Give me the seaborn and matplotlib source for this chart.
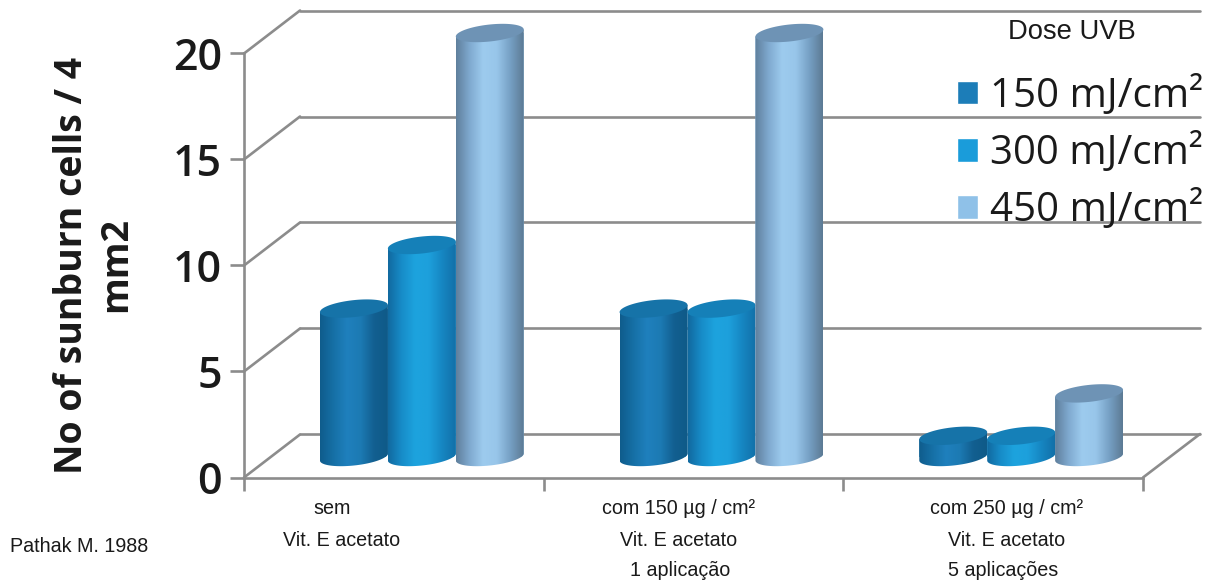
import numpy as np
import pandas as pd
import seaborn as sns
import matplotlib
matplotlib.use("Agg")
import matplotlib.pyplot as plt
from matplotlib.colors import LinearSegmentedColormap
from matplotlib.lines import Line2D
from matplotlib.patches import Polygon
from matplotlib.path import Path

# ---- data ----
categories = ["sem", "com 150", "com 250"]
doses = ["150 mJ/cm²", "300 mJ/cm²", "450 mJ/cm²"]
values_150 = [7, 7, 1]
values_300 = [10, 7, 1]
values_450 = [20, 20, 3]
y_ticks = [0, 5, 10, 15, 20]
y_title = "No of sunburn cells / 4\nmm2"
legend_title = "Dose UVB"
source = "Pathak M. 1988"
x_lines = [
    [("sem", 332, 508), ("Vit. E acetato", 342, 540)],
    [("com 150 µg / cm²", 678, 508), ("Vit. E acetato", 679, 540), ("1 aplicação", 680, 571)],
    [("com 250 µg / cm²", 1007, 508), ("Vit. E acetato", 1007, 540), ("5 aplicações", 1003, 571)],
]

# ---- style ----
W, H = 1214, 583
GREY = "#8c8c8c"
flat = ["#1C7DB8", "#1A9CDA", "#8FC1E8"]
sides = [
    ["#0F5C8C", "#1670A6", "#1F80BD", "#1C7AB3", "#125F90", "#0F5A88"],
    ["#11699F", "#178CC8", "#1DA3DE", "#1DA0DC", "#1686C2", "#1270A8"],
    ["#5F7F9C", "#7FA9CF", "#9DCBEE", "#98C6EA", "#76A0C4", "#5C7A94"],
]
tops = ["#1673A8", "#1580B8", "#6E93B5"]

sns.set_theme(style="white")
plt.rcParams["font.family"] = ["Open Sans", "DejaVu Sans"]
fig = plt.figure(figsize=(W / 100, H / 100), dpi=100)
fig.patch.set_facecolor("white")


def rect(x0, x1, y_bottom, y_top):
    return [x0 / W, 1 - y_bottom / H, (x1 - x0) / W, (y_bottom - y_top) / H]


def fx(x):
    return x / W


def fy(y):
    return 1 - y / H


# back wall with its gridlines
ax_back = fig.add_axes(rect(300, 1200, 434, 11))
ax_back.set_xlim(-0.5, 2.5)
ax_back.set_ylim(0, 20)
ax_back.set_yticks(y_ticks)
ax_back.set_xticks([])
ax_back.tick_params(left=False, labelleft=False)
ax_back.grid(axis="y", color=GREY, lw=1.9)
sns.despine(ax=ax_back, left=True, bottom=True)
for line in ax_back.get_ygridlines():
    line.set_clip_on(False)
ax_back.patch.set_alpha(0)

# front plane with axes
ax_front = fig.add_axes(rect(244, 1143, 477.5, 53))
ax_front.set_xlim(-0.5, 2.5)
ax_front.set_ylim(0, 20)
ax_front.patch.set_alpha(0)
ax_front.set_yticks(y_ticks)
ax_front.set_xticks([-0.5, 0.5, 1.5, 2.5])
ax_front.set_xticklabels([])
ax_front.set_yticklabels([str(t) for t in y_ticks], fontsize=31, fontweight="semibold", color="#1a1a1a")
sns.despine(ax=ax_front)
for s in ("left", "bottom"):
    ax_front.spines[s].set_color(GREY)
    ax_front.spines[s].set_linewidth(1.9)
ax_front.spines["left"].set_bounds(0, 20)
ax_front.tick_params(axis="y", length=10, width=1.9, color=GREY, pad=6, left=True)
ax_front.tick_params(axis="x", length=9, width=1.9, color=GREY, bottom=True)

# depth diagonals
for t in y_ticks:
    y0 = 477.5 - t * 21.2
    fig.add_artist(Line2D([fx(244), fx(300)], [fy(y0), fy(y0 - 43)], color=GREY, lw=1.9))
fig.add_artist(Line2D([fx(1143), fx(1200)], [fy(477.5), fy(434)], color=GREY, lw=1.9))

# bars
PX = 21.2
y_low, y_high = -1.0, 22.0
ax_bars = fig.add_axes(rect(272, 1171, 457 - y_low * PX, 457 - y_high * PX))
ax_bars.patch.set_alpha(0)
df = pd.DataFrame({
    "group": categories * 3,
    "dose": [doses[0]] * 3 + [doses[1]] * 3 + [doses[2]] * 3,
    "value": values_150 + values_300 + values_450,
})
sns.barplot(data=df, x="group", y="value", hue="dose", palette=flat, width=0.68, gap=0,
            saturation=1, ax=ax_bars, errorbar=None)

b = 8.5 / PX
tilt = 3.5 / PX
z = 3
for k, container in enumerate(ax_bars.containers):
    cmap = LinearSegmentedColormap.from_list(f"c{k}", sides[k])
    for patch in sorted(container, key=lambda p: p.get_x()):
        x, w, v = patch.get_x(), patch.get_width(), patch.get_height()
        cx, a = x + w / 2, w / 2
        t_low = np.linspace(np.pi, 2 * np.pi, 60)
        low = np.c_[cx + a * np.cos(t_low), b * np.sin(t_low) + tilt * np.cos(t_low)]
        t_up = np.linspace(0, np.pi, 60)
        up = np.c_[cx + a * np.cos(t_up), v + tilt * np.cos(t_up)]
        body = np.r_[low, up, low[:1]]
        patch.set_edgecolor("none")
        patch.set_clip_path(Path(body), ax_bars.transData)
        patch.set_zorder(z)
        im = ax_bars.imshow(np.linspace(0, 1, 256).reshape(1, -1), cmap=cmap, aspect="auto",
                            extent=(x, x + w, -1, v + 1), zorder=z + 0.1, interpolation="bilinear")
        im.set_clip_path(Path(body), ax_bars.transData)
        t = np.linspace(0, 2 * np.pi, 120)
        cap = np.c_[cx + a * np.cos(t), v + b * np.sin(t) + tilt * np.cos(t)]
        ax_bars.add_patch(Polygon(cap, closed=True, facecolor=tops[k], edgecolor="none", zorder=z + 0.2))
        z += 1
ax_bars.set_xlim(-0.5, 2.5)
ax_bars.set_ylim(y_low, y_high)
ax_bars.set_axis_off()

# legend
sns.move_legend(ax_bars, "upper left", bbox_to_anchor=(957 / W, 1 - 76 / H),
                bbox_transform=fig.transFigure, frameon=False, title=None,
                fontsize=29, labelspacing=0.4, handlelength=0.52, handleheight=0.52,
                handletextpad=0.3, borderpad=0, borderaxespad=0)
for txt in ax_bars.get_legend().get_texts():
    txt.set_color("#1a1a1a")
ax_bars.get_legend().set_zorder(100)

# texts
fig.text(fx(1072), fy(32), legend_title, ha="center", va="center", fontsize=19.7,
         family="Liberation Sans", color="#1a1a1a")
fig.text(fx(94), fy(265), y_title, rotation=90, ha="center", va="center", fontsize=27,
         fontweight="bold", linespacing=1.2, color="#1a1a1a", multialignment="center")
for group in x_lines:
    for label, x_px, y_px in group:
        fig.text(fx(x_px), fy(y_px), label, ha="center", va="center", fontsize=14.2,
                 family="Liberation Sans", color="#1a1a1a")
fig.text(fx(10), fy(546), source, ha="left", va="center", fontsize=14.2,
         family="Liberation Sans", color="#1a1a1a")

fig.savefig("out.png", dpi=100, facecolor="white")
